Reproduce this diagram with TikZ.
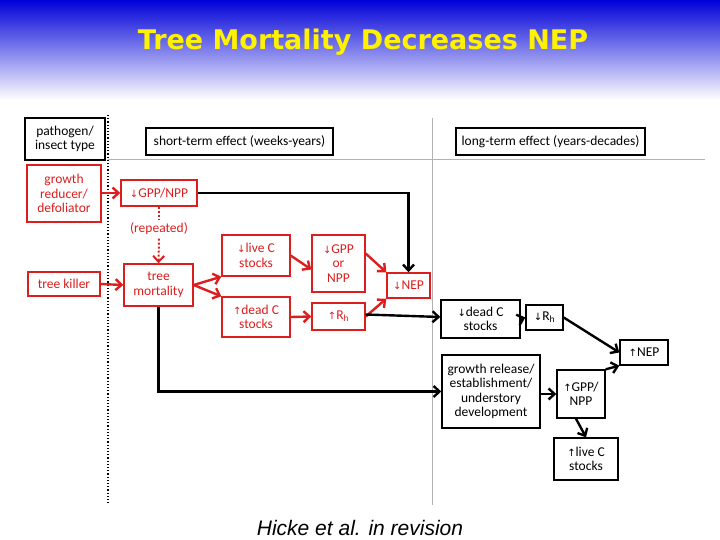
\documentclass[tikz,border=0pt]{standalone}
\usepackage{fontspec}
\setmainfont{Carlito}
\newfontfamily\titlefont{DejaVu Sans}
\newfontfamily\footfont{Liberation Sans}
\newfontfamily\symfont{DejaVu Sans}
\usetikzlibrary{arrows.meta}
\definecolor{rd}{RGB}{220,30,30}
\newcommand{\dn}{{\symfont\fontsize{10}{10}\selectfont↓}}
\newcommand{\up}{{\symfont\fontsize{10}{10}\selectfont↑}}
\tikzset{
 bx/.style={draw=black,line width=1.4pt,fill=white,align=center,font=\fontsize{13.5}{14.5}\selectfont,inner sep=1pt},
 rbx/.style={bx,draw=rd,text=rd},
 rarr/.style={draw=rd,line width=2.4pt,-{Straight Barb[length=6pt,width=11pt]}},
 barr/.style={draw=black,line width=2.4pt,-{Straight Barb[length=6pt,width=11pt]}},
}
\begin{document}
\begin{tikzpicture}[x=1pt,y=-1pt]
\useasboundingbox (0,0) rectangle (720,540);
\shade[top color=blue!85!black,bottom color=white] (0,0) rectangle (720,100);
\node[font=\titlefont\bfseries\fontsize{27}{29}\selectfont,text=yellow] (title) at (363,42) {Tree Mortality Decreases NEP};
\draw[dotted,line width=1.2pt] (108,115) -- (108,505);
\draw[gray!60,line width=1pt] (108,160) -- (705,160);
\draw[gray!60,line width=1pt] (432,118) -- (432,505);
\node[bx,minimum width=80,minimum height=42] (pi) at (65,139) {pathogen/\\insect type};
\node[bx,minimum width=187,minimum height=27] (st) at (239.5,141.5) {short-term effect (weeks-years)};
\node[bx,minimum width=189,minimum height=27] (lt) at (550.5,141.5) {long-term effect (years-decades)};
\node[rbx,minimum width=74,minimum height=57] (gr) at (64,193.5) {growth\\reducer/\\defoliator};
\node[rbx,minimum width=76,minimum height=26] (gpp1) at (159,193) {\dn GPP/NPP};
\node[rbx,minimum width=72,minimum height=24] (tk) at (64,284) {tree killer};
\node[rbx,minimum width=69,minimum height=42] (tm) at (158.5,285) {tree\\mortality};
\node[rbx,minimum width=68,minimum height=41] (lc) at (256,255.5) {\dn live C\\stocks};
\node[rbx,minimum width=68,minimum height=40] (dc) at (256,317) {\up dead C\\stocks};
\node[rbx,minimum width=53,minimum height=57] (gon) at (338.5,263.5) {\dn GPP\\or\\NPP};
\node[rbx,minimum width=53,minimum height=27] (rh1) at (338.5,316.5) {\up R\textsubscript{h}};
\node[rbx,minimum width=43,minimum height=25] (nep1) at (408.5,285.5) {\dn NEP};
\node[bx,minimum width=79,minimum height=38] (dc2) at (480.5,319) {\dn dead C\\stocks};
\node[bx,minimum width=37,minimum height=25] (rh2) at (544.5,317.5) {\dn R\textsubscript{h}};
\node[bx,minimum width=48,minimum height=25] (nep2) at (644,352.5) {\up NEP};
\node[bx,minimum width=98,minimum height=73] (grw) at (491,391.5) {growth release/\\establishment/\\understory\\development};
\node[bx,minimum width=48,minimum height=48] (gpp2) at (581,394) {\up GPP/\\NPP};
\node[bx,minimum width=64,minimum height=42] (lc2) at (586,459) {\up live C\\stocks};
\node[text=rd,font=\fontsize{13.5}{14.5}\selectfont] (rep) at (159,229) {(repeated)};
\draw[rarr] (gr.east|-gpp1) -- (gpp1.west);
\draw[rd,line width=2pt,dotted] (gpp1.south) -- (rep.north);
\draw[rd,line width=2pt,dotted,-{Straight Barb[length=6pt,width=11pt]}] (rep.south) -- (tm.north);
\draw[rarr] (tk.east) -- (tm.west);
\draw[rarr] (tm.east) -- (lc.south west);
\draw[rarr] (tm.east) -- (dc.north west);
\draw[rarr] (lc.east) -- ([yshift=-6]gon.west);
\draw[rarr] (dc.east) -- (rh1.west);
\draw[rarr] ([yshift=10]gon.east) -- (nep1.north west);
\draw[rarr] (rh1.east) -- (nep1.south west);
\draw[barr] (gpp1.east) -| (nep1.north);
\draw[barr] ([yshift=2]rh1.east) -- ([yshift=2]dc2.west);
\draw[barr] (dc2.east) -- (rh2.west);
\draw[barr] (rh2.east) -- (nep2.west);
\draw[barr] (tm.south) |- (grw.west);
\draw[barr] (grw.east|-gpp2) -- (gpp2.west);
\draw[barr] (gpp2.north east) -- (nep2.south west);
\draw[barr] ([xshift=-5]gpp2.south) -- (lc2.north);
\node[font=\footfont\itshape\fontsize{21}{23}\selectfont] (ft) at (360,528) {Hicke et al. in revision};
\end{tikzpicture}
\end{document}
